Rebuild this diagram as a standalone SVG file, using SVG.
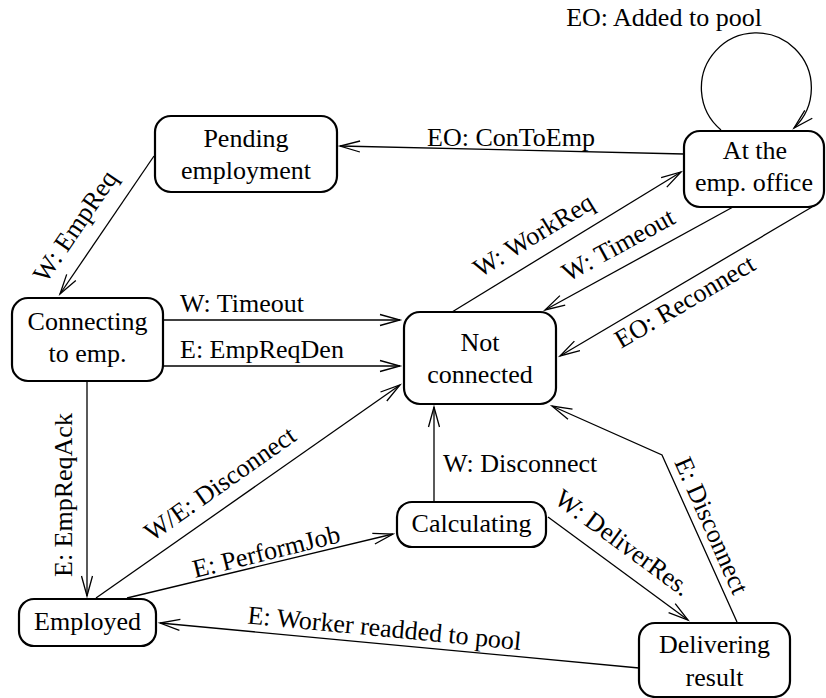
<svg xmlns="http://www.w3.org/2000/svg" width="826" height="698" viewBox="0 0 826 698">
<rect width="826" height="698" fill="#fff"/>
<g id="connectors">
<g fill="none" stroke="#000" stroke-width="1.3">
<path d="M154,156 L60,294"/>
<path d="M163,320 L400,320"/>
<path d="M163,366 L400,366"/>
<path d="M87,381 L87,596"/>
<path d="M96,598 L400,385"/>
<path d="M127,598 L393,534"/>
<path d="M434,502 L434,407"/>
<path d="M548,517 L688,620"/>
<path d="M737,622 L662,455 L552,406"/>
<path d="M639,668 L160,623"/>
<path d="M452,312 L681,172"/>
<path d="M733,207 L545,310"/>
<path d="M812,207 L560,356"/>
<path d="M684,154 L340,146"/>
<path d="M721,130 A55,55 0 1 1 794,128"/>
<path d="M66.7,274.4 L60,294 L75.8,280.6 M380,314.5 L400,320 L380,325.5 M380,360.5 L400,366 L380,371.5 M81.5,576 L87,596 L92.5,576 M386.8,401 L400,385 L380.5,392 M374.9,544 L393,534 L372.3,533.3 M428.5,427 L434,407 L439.5,427 M668.6,612.6 L688,620 L675.2,603.7 M572.5,409.1 L552,406 L568,419.2 M180.4,619.4 L160,623 L179.4,630.3 M666.8,187.1 L681,172 L661.1,177.7 M559.9,295.6 L545,310 L565.2,305.2 M574.4,341.1 L560,356 L580,350.6 M360.1,141 L340,146 L359.9,152 M804.8,110.3 L794,128 L812.3,118.3"/>
</g>
<text font-family="Liberation Serif" font-size="26" x="664" y="26" text-anchor="middle">EO: Added to pool</text>
<text font-family="Liberation Serif" font-size="26" x="427" y="146">EO: ConToEmp</text>
<text font-family="Liberation Serif" font-size="26" transform="translate(46,284) rotate(-55.7)">W: EmpReq</text>
<text font-family="Liberation Serif" font-size="26" x="180" y="312">W: Timeout</text>
<text font-family="Liberation Serif" font-size="26" x="180" y="358">E: EmpReqDen</text>
<text font-family="Liberation Serif" font-size="26" transform="translate(72,577) rotate(-90)">E: EmpReqAck</text>
<text font-family="Liberation Serif" font-size="26" transform="translate(152,542) rotate(-35.1)">W/E: Disconnect</text>
<text font-family="Liberation Serif" font-size="26" transform="translate(195,578) rotate(-13.8)">E: PerformJob</text>
<text font-family="Liberation Serif" font-size="26" x="443" y="472">W: Disconnect</text>
<text font-family="Liberation Serif" font-size="26" transform="translate(553,502) rotate(36.3)">W: DeliverRes.</text>
<text font-family="Liberation Serif" font-size="26" transform="translate(674,462) rotate(66.1)">E: Disconnect</text>
<text font-family="Liberation Serif" font-size="26" transform="translate(247,623.5) rotate(5.5)">E: Worker readded to pool</text>
<text font-family="Liberation Serif" font-size="26" transform="translate(480,278) rotate(-31.4)">W: WorkReq</text>
<text font-family="Liberation Serif" font-size="26" transform="translate(568,282) rotate(-28.7)">W: Timeout</text>
<text font-family="Liberation Serif" font-size="26" transform="translate(621,349) rotate(-30.5)">EO: Reconnect</text>
</g>
<g id="pending">
<rect x="155" y="116" width="182" height="76" rx="16" fill="#fff" stroke="#000" stroke-width="2.2"/>
<text font-family="Liberation Serif" font-size="26" x="246" y="147" text-anchor="middle">Pending</text>
<text font-family="Liberation Serif" font-size="26" x="246" y="179" text-anchor="middle">employment</text>
</g>
<g id="office">
<rect x="684" y="131" width="140" height="76" rx="16" fill="#fff" stroke="#000" stroke-width="2.2"/>
<text font-family="Liberation Serif" font-size="26" x="755" y="159" text-anchor="middle">At the</text>
<text font-family="Liberation Serif" font-size="26" x="754" y="191" text-anchor="middle">emp. office</text>
</g>
<g id="connecting">
<rect x="12" y="298" width="151" height="83" rx="16" fill="#fff" stroke="#000" stroke-width="2.2"/>
<text font-family="Liberation Serif" font-size="26" x="87.5" y="330" text-anchor="middle">Connecting</text>
<text font-family="Liberation Serif" font-size="26" x="87.5" y="362" text-anchor="middle">to emp.</text>
</g>
<g id="notconnected">
<rect x="404" y="312" width="152" height="92" rx="16" fill="#fff" stroke="#000" stroke-width="2.2"/>
<text font-family="Liberation Serif" font-size="26" x="480" y="351" text-anchor="middle">Not</text>
<text font-family="Liberation Serif" font-size="26" x="480" y="383" text-anchor="middle">connected</text>
</g>
<g id="calculating">
<rect x="397" y="502" width="149" height="45" rx="15" fill="#fff" stroke="#000" stroke-width="2.2"/>
<text font-family="Liberation Serif" font-size="26" x="471.5" y="532" text-anchor="middle">Calculating</text>
</g>
<g id="delivering">
<rect x="639" y="623" width="151" height="74" rx="16" fill="#fff" stroke="#000" stroke-width="2.2"/>
<text font-family="Liberation Serif" font-size="26" x="714.5" y="653" text-anchor="middle">Delivering</text>
<text font-family="Liberation Serif" font-size="26" x="714.5" y="686" text-anchor="middle">result</text>
</g>
<g id="employed">
<rect x="19" y="599" width="137" height="47" rx="15" fill="#fff" stroke="#000" stroke-width="2.2"/>
<text font-family="Liberation Serif" font-size="26" x="87.5" y="630" text-anchor="middle">Employed</text>
</g>
</svg>
